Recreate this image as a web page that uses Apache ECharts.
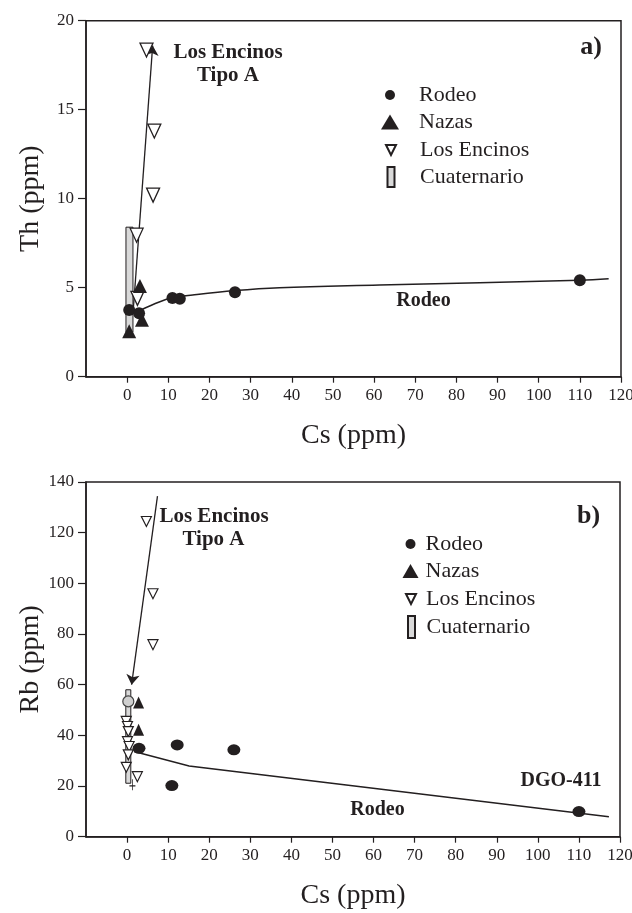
<!DOCTYPE html>
<html><head><meta charset="utf-8">
<script src="https://cdn.jsdelivr.net/npm/echarts@6/dist/echarts.min.js"></script>
<style>html,body{margin:0;padding:0;background:#fff}#c{width:632px;height:913px}</style>
</head><body><div id="c"></div>
<script>
// ---------- Panel a) Th vs Cs ----------
const xTicks = [0,10,20,30,40,50,60,70,80,90,100,110,120];
const aYTicks = [0,5,10,15,20];
const bYTicks = [0,20,40,60,80,100,120,140];

const a_rodeo_cs = [0.5, 2.9, 11.0, 12.8, 26.2, 110.0];
const a_rodeo_th = [3.75, 3.56, 4.42, 4.38, 4.74, 5.42];
const a_nazas_cs = [0.5, 3.1, 3.6];
const a_nazas_th = [2.55, 5.1, 3.2];
const a_encinos_cs = [4.7, 6.6, 6.3, 2.3, 2.5];
const a_encinos_th = [18.35, 13.8, 10.2, 7.95, 4.4];
const a_cuat_cs = [0.56];
const a_cuat_min = [2.5];
const a_cuat_max = [8.4];
const a_tipoA_cs = [1.5, 6.2];
const a_tipoA_th = [3.8, 18.6];
const a_rodeoCurve_cs = [3.3, 7.8, 11, 15.9, 26.2, 37, 61.3, 110, 117];
const a_rodeoCurve_th = [3.75, 4.2, 4.43, 4.59, 4.84, 5.0, 5.15, 5.42, 5.5];

// ---------- Panel b) Rb vs Cs ----------
const b_rodeo_cs = [2.9, 12.2, 10.9, 26.0, 110.0];
const b_rodeo_rb = [34.9, 36.2, 20.2, 34.3, 9.9];
const b_nazas_cs = [2.8, 2.8];
const b_nazas_rb = [53, 42.2];
const b_encinos_cs = [4.7, 6.3, 6.3, -0.2, 0.1, 0.3, 0.1, 0.5, 0.3, -0.2, 2.5];
const b_encinos_rb = [124.4, 95.9, 75.8, 45.5, 43.5, 41.5, 37.5, 35.6, 32.3, 27.4, 23.7];
const b_cuat_cs = [0.3];
const b_cuat_min = [21.1];
const b_cuat_max = [58];
const b_cuatPt_cs = [0.3];
const b_cuatPt_rb = [53.4];
const b_plus_cs = [1.3];
const b_plus_rb = [20.5];
const b_tipoA_cs = [7.4, 1.1];
const b_tipoA_rb = [134.4, 60];
const b_rodeoLine_cs = [1.7, 15.1, 117.3];
const b_rodeoLine_rb = [33.6, 27.9, 7.9];

const zip = (a, b) => a.map((v, i) => [v, b[i]]);
const FONT = '"Liberation Serif", "Times New Roman", serif';
const INK = '#231f20';
const DOWN = 'path://M0,0L10,0L5,10Z';
const PLUS = 'path://M5,0L5,10M2,6L8,6';

function xAxis(gi) {
  return {
    type: 'value', gridIndex: gi, min: -10, max: 120, interval: 10,
    axisLine: { show: true, onZero: false, lineStyle: { color: INK, width: 1.5 } },
    axisTick: { show: true, length: 6, customValues: xTicks, lineStyle: { color: INK, width: 1.2 } },
    axisLabel: { customValues: xTicks, margin: 10, color: INK, fontFamily: FONT, fontSize: 17 },
    splitLine: { show: false },
    name: 'Cs (ppm)', nameLocation: 'middle', nameGap: 45, nameMoveOverlap: false,
    nameTextStyle: { color: INK, fontFamily: FONT, fontSize: 28 }
  };
}
function yAxis(gi, max, interval, name, margin) {
  return {
    type: 'value', gridIndex: gi, min: 0, max: max, interval: interval,
    axisLine: { show: true, onZero: false, lineStyle: { color: INK, width: 1.5 } },
    axisTick: { show: true, length: 8, lineStyle: { color: INK, width: 1.2 } },
    axisLabel: { margin: margin, color: INK, fontFamily: FONT, fontSize: 17 },
    splitLine: { show: false },
    name: name, nameLocation: 'middle', nameGap: 41, nameRotate: 90, nameMoveOverlap: false,
    nameTextStyle: { color: INK, fontFamily: FONT, fontSize: 28 }
  };
}
function cuatSeries(gi, cs, mn, mx, w) {
  return {
    type: 'custom', name: 'Cuaternario', xAxisIndex: gi, yAxisIndex: gi, z: 1,
    itemStyle: { color: '#d9d9d9', borderColor: INK, borderWidth: 1, opacity: 1 },
    encode: { x: 0, y: [1, 2] },
    data: cs.map((v, i) => [v, mn[i], mx[i]]),
    renderItem: function (params, api) {
      const top = api.coord([api.value(0), api.value(2)]);
      const bot = api.coord([api.value(0), api.value(1)]);
      return { type: 'rect', shape: { x: top[0] - w / 2, y: top[1], width: w, height: bot[1] - top[1] },
        style: { fill: '#d9d9d9', stroke: INK, lineWidth: 1 } };
    }
  };
}
function legendItem(name, icon, w, h, cx, cy, textX, size) {
  const left = cx - w / 2;
  const pad = textX - (left + w + 5);
  const lh = 24;
  return {
    data: [name], icon: icon, itemWidth: w, itemHeight: h, padding: 0,
    left: left, top: cy - Math.max(h, lh) / 2, selectedMode: false,
    formatter: '{t|{name}}',
    textStyle: { rich: { t: { padding: [0, 0, 0, pad], fontFamily: FONT, fontSize: size, color: INK, lineHeight: lh } } }
  };
}
function txt(x, y, s, size) {
  return { type: 'text', x: x, y: y, z: 100,
    style: { text: s, font: 'bold ' + size + 'px ' + FONT, fill: INK, align: 'center', verticalAlign: 'middle' } };
}
const gridBase = { left: 86, show: true, borderColor: INK, borderWidth: 1.5, backgroundColor: 'transparent',
  containLabel: false, outerBoundsMode: 'none' };

const option = {
  backgroundColor: '#fff',
  animation: false,
  grid: [
    Object.assign({}, gridBase, { right: 11, top: 20.7, bottom: 913 - 376.7 }),
    Object.assign({}, gridBase, { right: 12, top: 482, bottom: 913 - 836.7 })
  ],
  xAxis: [xAxis(0), xAxis(1)],
  yAxis: [yAxis(0, 20, 5, 'Th (ppm)', 12), yAxis(1, 140, 20, 'Rb (ppm)', 12)],
  legend: [
    legendItem('Rodeo', 'circle', 10, 10, 390, 96, 419, 22),
    legendItem('Nazas', 'triangle', 18, 15, 390, 123, 419, 22),
    legendItem('Los Encinos', DOWN, 10, 10, 390, 151, 419, 22),
    legendItem('Cuaternario', 'rect', 7, 20, 390, 178, 419, 22),
    legendItem('Rodeo', 'circle', 10, 10, 410.5, 545, 425.5, 22),
    legendItem('Nazas', 'triangle', 16, 14, 410.5, 572, 425.5, 22),
    legendItem('Los Encinos', DOWN, 11, 10, 410.5, 600, 425.5, 22),
    legendItem('Cuaternario', 'rect', 7, 22, 410.5, 627, 425.5, 22)
  ],
  graphic: [
    txt(228, 53, 'Los Encinos', 21), txt(228, 76, 'Tipo A', 21),
    txt(591, 47, 'a)', 26), txt(423.5, 301, 'Rodeo', 20),
    txt(214, 517, 'Los Encinos', 21), txt(213.5, 540, 'Tipo A', 21),
    txt(588.5, 516, 'b)', 26), txt(377.5, 810, 'Rodeo', 20), txt(561, 781, 'DGO-411', 20)
  ],
  series: [
    // ----- panel a
    cuatSeries(0, a_cuat_cs, a_cuat_min, a_cuat_max, 7),
    { type: 'line', name: 'Rodeo curva a', xAxisIndex: 0, yAxisIndex: 0, z: 2, smooth: 0.4, showSymbol: false,
      lineStyle: { color: INK, width: 1.5 }, data: zip(a_rodeoCurve_cs, a_rodeoCurve_th) },
    { type: 'lines', name: 'Tipo A a', coordinateSystem: 'cartesian2d', xAxisIndex: 0, yAxisIndex: 0, z: 2,
      symbol: ['none', 'arrow'], symbolSize: [0, 10], lineStyle: { color: INK, width: 1.3, opacity: 1 },
      data: [{ coords: zip(a_tipoA_cs, a_tipoA_th) }] },
    { type: 'scatter', name: 'Los Encinos', xAxisIndex: 0, yAxisIndex: 0, z: 3, symbol: DOWN, symbolSize: [13, 14],
      itemStyle: { color: '#fff', borderColor: INK, borderWidth: 1.3, opacity: 1 }, data: zip(a_encinos_cs, a_encinos_th) },
    { type: 'scatter', name: 'Nazas', xAxisIndex: 0, yAxisIndex: 0, z: 4, symbol: 'triangle', symbolSize: [14, 14],
      itemStyle: { color: INK, opacity: 1 }, data: zip(a_nazas_cs, a_nazas_th) },
    { type: 'scatter', name: 'Rodeo', xAxisIndex: 0, yAxisIndex: 0, z: 5, symbol: 'circle', symbolSize: 12,
      itemStyle: { color: INK, opacity: 1 }, data: zip(a_rodeo_cs, a_rodeo_th) },
    // ----- panel b
    cuatSeries(1, b_cuat_cs, b_cuat_min, b_cuat_max, 5),
    { type: 'lines', name: 'Rodeo linea b', coordinateSystem: 'cartesian2d', xAxisIndex: 1, yAxisIndex: 1, z: 2,
      polyline: true, symbol: ['arrow', 'none'], symbolSize: [8, 0], lineStyle: { color: INK, width: 1.5, opacity: 1 },
      data: [{ coords: zip(b_rodeoLine_cs, b_rodeoLine_rb) }] },
    { type: 'lines', name: 'Tipo A b', coordinateSystem: 'cartesian2d', xAxisIndex: 1, yAxisIndex: 1, z: 2,
      symbol: ['none', 'arrow'], symbolSize: [0, 10], lineStyle: { color: INK, width: 1.3, opacity: 1 },
      data: [{ coords: zip(b_tipoA_cs, b_tipoA_rb) }] },
    { type: 'scatter', name: 'Cuaternario muestra', xAxisIndex: 1, yAxisIndex: 1, z: 3, symbol: 'circle', symbolSize: 11,
      itemStyle: { color: '#cfcfcf', borderColor: '#444', borderWidth: 1.2, opacity: 1 }, data: zip(b_cuatPt_cs, b_cuatPt_rb) },
    { type: 'scatter', name: 'marca', xAxisIndex: 1, yAxisIndex: 1, z: 3, symbol: PLUS, symbolSize: [6, 11],
      itemStyle: { color: 'none', borderColor: INK, borderWidth: 1, opacity: 1 }, data: zip(b_plus_cs, b_plus_rb) },
    { type: 'scatter', name: 'Los Encinos', xAxisIndex: 1, yAxisIndex: 1, z: 4, symbol: DOWN, symbolSize: [10, 10],
      itemStyle: { color: '#fff', borderColor: INK, borderWidth: 1.2, opacity: 1 }, data: zip(b_encinos_cs, b_encinos_rb) },
    { type: 'scatter', name: 'Nazas', xAxisIndex: 1, yAxisIndex: 1, z: 4, symbol: 'triangle', symbolSize: [11, 12],
      itemStyle: { color: INK, opacity: 1 }, data: zip(b_nazas_cs, b_nazas_rb) },
    { type: 'scatter', name: 'Rodeo', xAxisIndex: 1, yAxisIndex: 1, z: 5, symbol: 'circle', symbolSize: [13, 11],
      itemStyle: { color: INK, opacity: 1 }, data: zip(b_rodeo_cs, b_rodeo_rb) }
  ]
};
const chart = echarts.init(document.getElementById('c'), null, { renderer: 'canvas' });
chart.setOption(option);
</script>
</body></html>
